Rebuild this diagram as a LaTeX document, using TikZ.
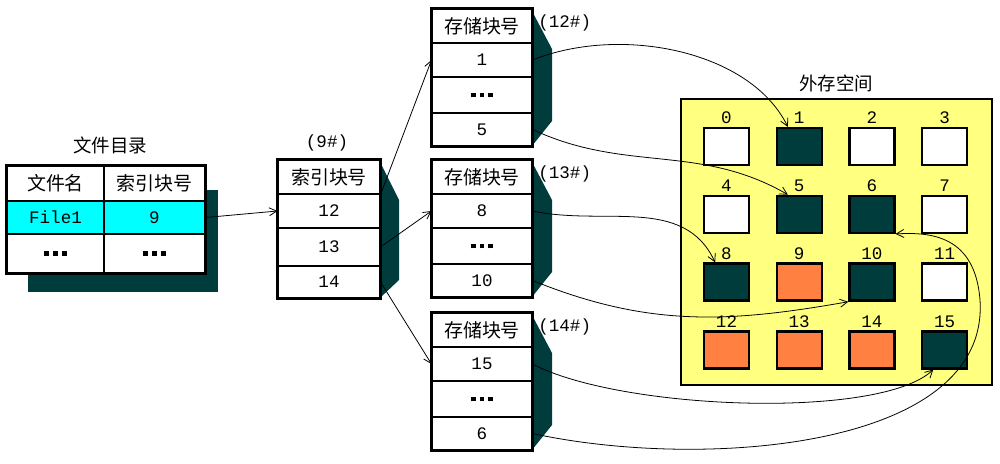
\documentclass[tikz,border=0pt]{standalone}
\usepackage{fontspec}
\setmainfont{Liberation Mono}
\newfontfamily\cjk{Noto Sans CJK SC}
\usetikzlibrary{arrows.meta}
\definecolor{blkteal}{RGB}{0,60,60}
\definecolor{diskyel}{RGB}{255,255,128}
\definecolor{usedorg}{RGB}{255,128,64}
\definecolor{hicyan}{RGB}{0,255,255}
\newcommand\blkdots{\rule{2.8pt}{2.8pt}\hspace{2.2pt}\rule{2.8pt}{2.8pt}\hspace{2.2pt}\rule{2.8pt}{2.8pt}}
\tikzset{
  cell/.style={
    draw=black, fill=white, line width=0.6pt, minimum width=2cm,
    inner sep=0pt, font=\fontsize{10}{12}\selectfont
  },
  hdr/.style={cell, font=\cjk\fontsize{10.8}{12}\selectfont},
  boxline/.style={draw=black, line width=1.3pt},
  blkshd/.style={fill=blkteal},
  sq/.style={draw=black, line width=1.3pt, minimum width=0.9cm, minimum height=0.74cm, inner sep=0pt},
  sqfree/.style={sq, fill=white},
  sqused/.style={sq, fill=blkteal},
  sqbusy/.style={sq, fill=usedorg},
  lnk/.style={-{Straight Barb[length=1.5mm,width=1.6mm]}, line width=0.45pt},
  tag/.style={font=\fontsize{10}{12}\selectfont, inner sep=0pt},
  ttl/.style={font=\cjk\fontsize{10.5}{12}\selectfont, inner sep=0pt}
}
\begin{document}
\begin{tikzpicture}[x=0.02cm,y=-0.02cm]
  \useasboundingbox (0,0) rectangle (1000,463);

  % file directory
  \fill[blkshd] (28,190) rectangle (218,292);
  \node[ttl] (dtitle) at (110,145) {文件目录};
  \node[hdr, minimum width=1.94cm, minimum height=0.7cm] (dname) at (55.5,183.5) {文件名};
  \node[hdr, minimum width=2.02cm, minimum height=0.7cm] (dindex) at (154.5,183.5) {索引块号};
  \node[cell, fill=hicyan, minimum width=1.94cm, minimum height=0.66cm] (dfile) at (55.5,217.5) {File1};
  \node[cell, fill=hicyan, minimum width=2.02cm, minimum height=0.66cm] (dnine) at (154.5,217.5) {9};
  \node[cell, minimum width=1.94cm, minimum height=0.78cm] (ddots) at (55.5,253.5) {\blkdots};
  \node[cell, minimum width=2.02cm, minimum height=0.78cm] (ddots2) at (154.5,253.5) {\blkdots};
  \draw[boxline] (dname.north west) rectangle (ddots2.south east);

  % index block 9#
  \fill[blkshd] (380,162) -- (399,200) -- (399,280) -- (380,298) -- cycle;
  \node[tag] (ilbl) at (327,143) {(9\#)};
  \node[hdr, minimum width=2.04cm, minimum height=0.68cm] (ihd) at (329,177) {索引块号};
  \node[cell, minimum width=2.04cm, minimum height=0.68cm] (i12) at (329,211) {12};
  \node[cell, minimum width=2.04cm, minimum height=0.76cm] (i13) at (329,247) {13};
  \node[cell, minimum width=2.04cm, minimum height=0.64cm] (i14) at (329,282) {14};
  \draw[boxline] (ihd.north west) rectangle (i14.south east);

  % storage blocks 12#, 13#, 14#
  \foreach \b/\t/\n/\p/\q in {a/9/12/1/5, b/160/13/8/10, c/313/14/15/6} {
    \fill[blkshd] (532,\t+2) -- (552,\t+40) -- (552,\t+112) -- (532,\t+137) -- cycle;
    \node[tag, anchor=west] (\b lbl) at (538,\t+14) {(\n\#)};
    \node[hdr, minimum height=0.68cm] (\b hd) at (482,\t+17) {存储块号};
    \node[cell, minimum height=0.68cm] (\b1) at (482,\t+51) {\p};
    \node[cell, minimum height=0.72cm] (\b d) at (482,\t+86) {\blkdots};
    \node[cell, minimum height=0.66cm] (\b2) at (482,\t+120.5) {\q};
    \draw[boxline] (\b hd.north west) rectangle (\b2.south east);
  }

  % disk space
  \node[ttl] (ktitle) at (836,83) {外存空间};
  \node[boxline, fill=diskyel, minimum width=6.22cm, minimum height=5.72cm] (disk) at (836.5,242) {};
  \foreach \i/\st in {0/sqfree,1/sqused,2/sqfree,3/sqfree,4/sqfree,5/sqused,6/sqused,7/sqfree,
                      8/sqused,9/sqbusy,10/sqused,11/sqfree,12/sqbusy,13/sqbusy,14/sqbusy,15/sqused} {
    \pgfmathtruncatemacro\col{mod(\i,4)}
    \pgfmathtruncatemacro\row{\i/4}
    \node[\st] (s\i) at (726.5+72.7*\col,146.5+67.8*\row) {};
    \node[tag, anchor=south] (n\i) at ([yshift=1.5pt]s\i.north) {\i};
  }

  % pointers
  \draw[lnk] (dnine.east) -- (i12.west);
  \draw[lnk] (ihd.south east) -- (a1.west);
  \draw[lnk] (i13.east) -- (b1.west);
  \draw[lnk] (i14.east) -- (c1.west);
  \draw[lnk] (a1.east) .. controls (620,25) and (750,50) .. (s1.120);
  \draw[lnk] (a2.east) to[out=-25,in=150] (s5.120);
  \draw[lnk] (b1.east) to[out=-12,in=115] (s8.120);
  \draw[lnk] (b2.east) to[out=-22,in=190] (s10.south west);
  \draw[lnk] (c1.east) .. controls (620,410) and (880,420) .. (s15.-120);
  \draw[lnk] (c2.east) .. controls (700,470) and (990,450) .. (980,300)
    .. controls (975,235) and (930,232) .. (s6.south east);
\end{tikzpicture}
\end{document}
